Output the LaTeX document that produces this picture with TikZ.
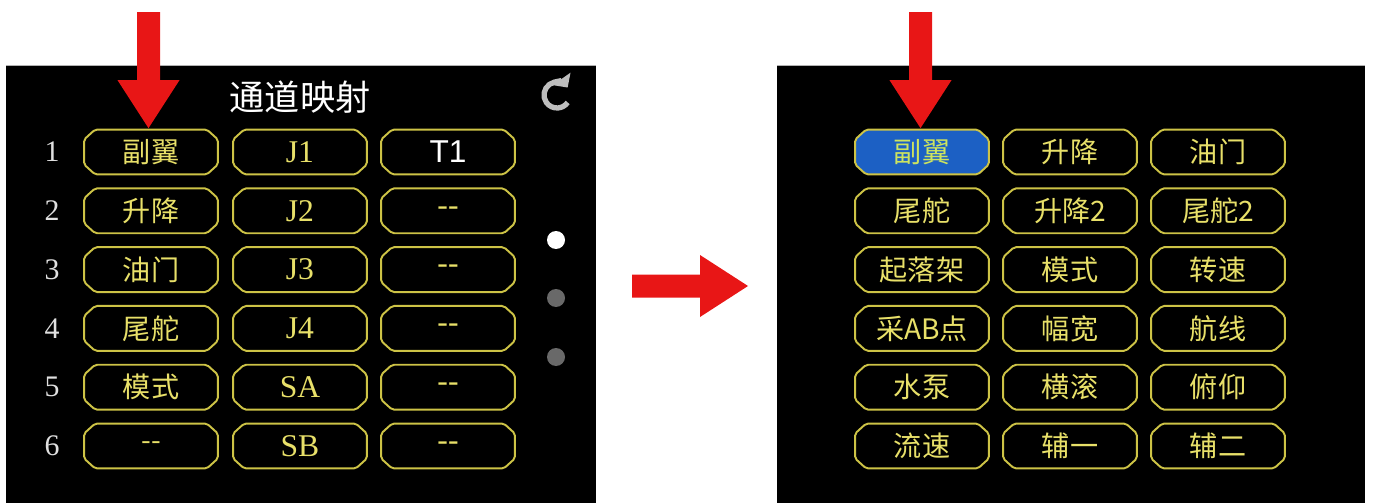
\documentclass[tikz,border=0pt]{standalone}
\usepackage{fontspec}
\setmainfont{Liberation Serif}
\setsansfont{Liberation Sans}
\newfontfamily\cjk{Noto Sans CJK SC}
\usetikzlibrary{arrows.meta}

\definecolor{btnline}{RGB}{205,195,70}
\definecolor{btntext}{RGB}{232,224,105}
\definecolor{selfill}{RGB}{28,96,196}
\definecolor{seltext}{RGB}{205,228,95}
\definecolor{arrowred}{RGB}{232,22,22}
\definecolor{dotgray}{RGB}{105,105,105}
\definecolor{icongray}{RGB}{190,190,190}

\tikzset{
  btn fill/.initial = black,
  btn/.style = {rectangle, fill=black, minimum width=2.72cm,
    minimum height=0.94cm, inner sep=0pt, text=btntext,
    font=\cjk\fontsize{16}{16}\selectfont,
    path picture={
      \coordinate (nw) at ([shift={(0.6pt,-0.6pt)}]path picture bounding box.north west);
      \coordinate (ne) at ([shift={(-0.6pt,-0.6pt)}]path picture bounding box.north east);
      \coordinate (se) at ([shift={(-0.6pt,0.6pt)}]path picture bounding box.south east);
      \coordinate (sw) at ([shift={(0.6pt,0.6pt)}]path picture bounding box.south west);
      \draw[btnline, line width=1.1pt, rounded corners=1.2pt,
            fill=\pgfkeysvalueof{/tikz/btn fill}]
        ([xshift=0.22cm]nw) -- ([xshift=-0.22cm]ne) -- ([yshift=-0.2cm]ne)
        -- ([yshift=0.2cm]se) -- ([xshift=-0.22cm]se) -- ([xshift=0.22cm]sw)
        -- ([yshift=0.2cm]sw) -- ([yshift=-0.2cm]nw) -- cycle;
    }},
  plain/.style = {},
  sel/.style = {btn fill=selfill, text=seltext},
  lat/.style = {font=\rmfamily\fontsize{18}{18}\selectfont},
  rownum/.style = {text=white!88!black, font=\rmfamily\fontsize{17}{17}\selectfont},
  dot/.style = {circle, inner sep=0pt, minimum size=0.36cm},
  downarrow/.pic = {
    \fill[arrowred] (0,0) -- (31,-48) -- (11.5,-48) -- (11.5,-116)
      -- (-11.5,-116) -- (-11.5,-48) -- (-31,-48) -- cycle;
  }
}

\begin{document}
\begin{tikzpicture}[x=0.02cm, y=-0.02cm]
  \useasboundingbox (0,0) rectangle (1375,503);

  % left screen: channel map
  \fill[black] (6,65) rectangle (596,503);
  \draw[gray!60, line width=0.4pt] (6,65) -- (596,65);
  \node[text=white, font=\cjk\fontsize{20}{20}\selectfont] (title) at (300,97) {通道映射};
  \foreach \a/\b/\c [count=\r] in {副翼/J1/{\color{white}\sffamily T1},
      升降/J2/-{}-, 油门/J3/-{}-, 尾舵/J4/-{}-, 模式/SA/-{}-, -{}-/SB/-{}-} {
    \node[rownum] (n\r) at (52, {93.2+58.8*\r}) {\r};
    \node[btn] (l\r1) at (151, {93.2+58.8*\r}) {\a};
    \node[btn, lat] (l\r2) at (300, {93.2+58.8*\r}) {\b};
    \node[btn, lat] (l\r3) at (448, {93.2+58.8*\r}) {\c};
  }

  % refresh icon and page dots
  \coordinate (refresh) at (557,95);
  \begin{scope}[shift={(refresh)}, yscale=-1]
    \draw[icongray, line width=3pt, {Triangle[length=6pt, width=12pt]}-]
      (35:13) arc[start angle=35, end angle=325, radius=13];
  \end{scope}
  \node[dot, fill=white] (dot1) at (556,240) {};
  \node[dot, fill=dotgray] (dot2) at (556,298) {};
  \node[dot, fill=dotgray] (dot3) at (556,357) {};

  % right screen: function list
  \fill[black] (777,65) rectangle (1365,503);
  \draw[gray!60, line width=0.4pt] (777,65) -- (1365,65);
  \foreach \a/\b/\c/\s [count=\r] in {副翼/升降/油门/sel, 尾舵/升降2/尾舵2/plain,
      起落架/模式/转速/plain, 采AB点/幅宽/航线/plain, 水泵/横滚/俯仰/plain,
      流速/辅一/辅二/plain} {
    \node[btn, \s] (r\r1) at (922, {93.2+58.8*\r}) {\a};
    \node[btn] (r\r2) at (1070, {93.2+58.8*\r}) {\b};
    \node[btn] (r\r3) at (1218, {93.2+58.8*\r}) {\c};
  }

  % red markers
  \pic at ([xshift=-0.05cm]l11.north) {downarrow};
  \pic at ([xshift=-0.03cm]r11.north) {downarrow};
  \coordinate (midtip) at (748,286);
  \pic[rotate=90] at (midtip) {downarrow};
\end{tikzpicture}
\end{document}
